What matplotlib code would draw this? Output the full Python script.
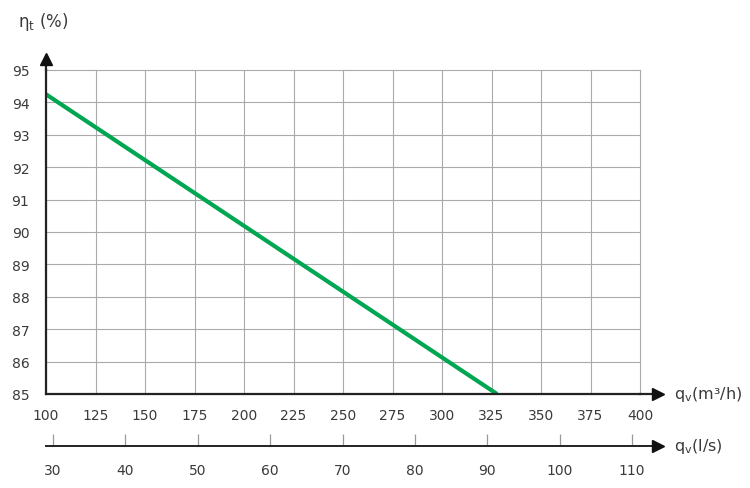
import matplotlib.pyplot as plt

# data
flow_m3h = [100, 327.8]
efficiency = [94.25, 85.0]
x_ticks = [100, 125, 150, 175, 200, 225, 250, 275, 300, 325, 350, 375, 400]
y_ticks = [85, 86, 87, 88, 89, 90, 91, 92, 93, 94, 95]
ls_ticks = [30, 40, 50, 60, 70, 80, 90, 100, 110]

txt = '#3a3a3a'
plt.rcParams['font.family'] = 'DejaVu Sans'

fig = plt.figure(figsize=(7.5, 4.89), dpi=100)
ax = fig.add_axes([46/750, 1-395/489, 594/750, 324/489])

ax.plot(flow_m3h, efficiency, color='#00a651', lw=3, solid_capstyle='butt', zorder=3)
ax.set_xlim(100, 400)
ax.set_ylim(85, 95)
ax.set_xticks(x_ticks)
ax.set_yticks(y_ticks)
ax.grid(True, color='#aaaaaa', lw=0.8)
for gl in ax.get_xgridlines() + ax.get_ygridlines():
    gl.set_clip_on(False)
ax.tick_params(length=0, labelsize=10, labelcolor=txt)
ax.tick_params(axis='x', pad=10)
ax.tick_params(axis='y', pad=12)
for s in ['top', 'right']:
    ax.spines[s].set_visible(False)
for s in ['left', 'bottom']:
    ax.spines[s].set_color('#222222')
    ax.spines[s].set_linewidth(1.6)
    ax.spines[s].set_zorder(4)

# axis arrows
ax.plot([1, 1.03], [0, 0], color='#222222', lw=1.6, transform=ax.transAxes, clip_on=False)
ax.plot(1.03, 0, '>', color='#111111', ms=8, transform=ax.transAxes, clip_on=False)
ax.plot([0, 0], [1, 1.035], color='#222222', lw=1.6, transform=ax.transAxes, clip_on=False)
ax.plot(0, 1.035, '^', color='#111111', ms=8, transform=ax.transAxes, clip_on=False)

ax.text(1.057, 0, r'$\mathregular{q_v}$(m³/h)', transform=ax.transAxes, va='center', ha='left',
        fontsize=11.5, color=txt)
fig.text(18/750, 1-22/489, r'$\mathregular{\eta_t}$ (%)', va='center', ha='left', fontsize=12, color=txt)

# second axis in l/s
ax2 = fig.add_axes([46/750, 1-447/489, 594/750, 0.0001])
ax2.set_xlim(29.03, 111.1)
ax2.set_xticks(ls_ticks)
ax2.set_yticks([])
for s in ['top', 'right', 'left']:
    ax2.spines[s].set_visible(False)
ax2.spines['bottom'].set_color('#222222')
ax2.spines['bottom'].set_linewidth(1.4)
ax2.tick_params(axis='x', direction='in', length=9, width=0.9, color='#999999',
                labelsize=10, labelcolor=txt, pad=12)
ax2.plot([1, 1.03], [0, 0], color='#222222', lw=1.4, transform=ax2.transAxes, clip_on=False)
ax2.plot(1.03, 0, '>', color='#111111', ms=8, transform=ax2.transAxes, clip_on=False)
ax2.text(1.057, 0, r'$\mathregular{q_v}$(l/s)', transform=ax2.transAxes, va='center', ha='left',
         fontsize=11.5, color=txt)

fig.savefig('out.png', dpi=100)
